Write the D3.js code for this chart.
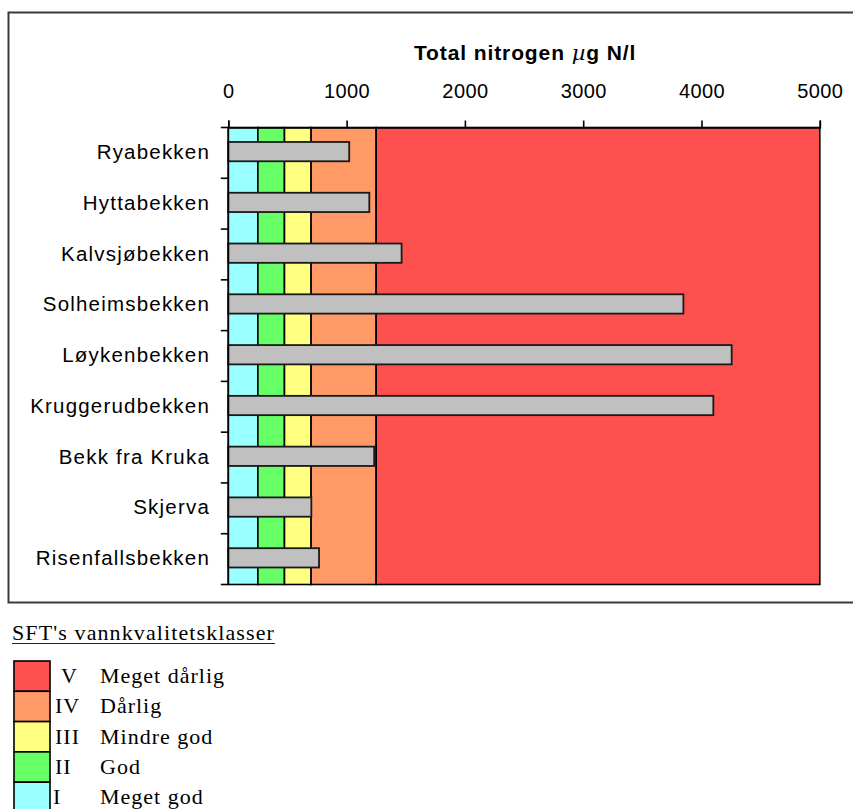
<!DOCTYPE html>
<html>
<head>
<meta charset="utf-8">
<script src="https://cdn.jsdelivr.net/npm/d3@7"></script>
<style>
  html, body { margin: 0; padding: 0; background: #ffffff; }
  svg { display: block; }
</style>
</head>
<body>
<svg id="chart" width="853" height="809"></svg>
<script>
// ---- data ----
const categories = ["Ryabekken", "Hyttabekken", "Kalvsjøbekken", "Solheimsbekken", "Løykenbekken",
                    "Kruggerudbekken", "Bekk fra Kruka", "Skjerva", "Risenfallsbekken"];
const nitrogenValues = [1022, 1192, 1465, 3847, 4255, 4100, 1233, 702, 767];
const classBreaks = [0, 250, 475, 700, 1250, 5000];
const classColors = ["#99ffff", "#66ff66", "#ffff80", "#ff9966", "#ff5050"];
const classNumerals = ["I", "II", "III", "IV", "V"];
const classNames = ["Meget god", "God", "Mindre god", "Dårlig", "Meget dårlig"];
const tickValues = [0, 1000, 2000, 3000, 4000, 5000];
const chartTitle = "Total nitrogen ";
const legendTitle = "SFT's vannkvalitetsklasser";

// ---- layout ----
const svg = d3.select("#chart");
const plot = { left: 228.3, right: 819.8, top: 127.5, bottom: 584.5 };
const sans = "'Liberation Sans', Arial, sans-serif";

// outer frame
svg.append("rect")
  .attr("x", 8.5).attr("y", 12.5).attr("width", 870).attr("height", 590)
  .attr("fill", "#ffffff").attr("stroke", "#3a3a3a").attr("stroke-width", 2);

const x = d3.scaleLinear().domain([0, 5000]).range([plot.left, plot.right]);
const y = d3.scaleBand().domain(categories).range([plot.top, plot.bottom]).paddingInner(0).paddingOuter(0);

// class columns (background)
const classes = classColors.map((c, i) => ({ from: classBreaks[i], to: classBreaks[i + 1], color: c }));
svg.append("g").selectAll("rect").data(classes).join("rect")
  .attr("x", d => x(d.from)).attr("width", d => x(d.to) - x(d.from))
  .attr("y", plot.top).attr("height", plot.bottom - plot.top)
  .attr("fill", d => d.color).attr("stroke", "#000").attr("stroke-width", 1.6);

// gray measurement bars
const bw = y.bandwidth();
svg.append("g").selectAll("rect").data(categories).join("rect")
  .attr("x", x(0))
  .attr("y", d => y(d) + bw * 0.285)
  .attr("width", (d, i) => x(nitrogenValues[i]) - x(0))
  .attr("height", bw * 0.38)
  .attr("fill", "#c0c0c0").attr("stroke", "#1a1a1a").attr("stroke-width", 1.8);

// top axis
const xAxis = d3.axisTop(x).tickValues(tickValues).tickSize(7).tickPadding(23).tickFormat(d3.format("d"));
const gx = svg.append("g").attr("transform", `translate(0,${plot.top})`).call(xAxis);
gx.select(".domain").attr("stroke", "#000").attr("stroke-width", 1.6);
gx.selectAll(".tick line").attr("stroke", "#000").attr("stroke-width", 1.6);
gx.selectAll(".tick text")
  .attr("font-family", sans)
  .attr("font-size", 20).attr("fill", "#000").attr("letter-spacing", 0.4);

// left axis: ticks at band boundaries
const boundaries = d3.range(categories.length + 1).map(i => plot.top + i * bw);
svg.append("g").selectAll("line").data(boundaries).join("line")
  .attr("x1", plot.left - 7.5).attr("x2", plot.left)
  .attr("y1", d => d).attr("y2", d => d)
  .attr("stroke", "#000").attr("stroke-width", 1.6);
svg.append("line")
  .attr("x1", plot.left).attr("x2", plot.left)
  .attr("y1", plot.top).attr("y2", plot.bottom)
  .attr("stroke", "#000").attr("stroke-width", 1.6);

// category labels
svg.append("g").selectAll("text").data(categories).join("text")
  .attr("x", 210)
  .attr("y", d => y(d) + bw * 0.48)
  .attr("dy", "0.35em")
  .attr("text-anchor", "end")
  .attr("font-family", sans)
  .attr("font-size", 20.5).attr("letter-spacing", 1.2)
  .attr("fill", "#000")
  .text(d => d);

// title
const title = svg.append("text")
  .attr("x", (plot.left + plot.right) / 2 + 1).attr("y", 60)
  .attr("text-anchor", "middle")
  .attr("font-family", sans)
  .attr("font-size", 21).attr("font-weight", "bold").attr("letter-spacing", 0.9).attr("fill", "#000");
title.append("tspan").text(chartTitle);
title.append("tspan").attr("font-family", "'DejaVu Serif', serif").attr("font-style", "italic").attr("font-weight", "normal").text("µ");
title.append("tspan").text("g N/l");

// legend
const serif = "'Liberation Serif', 'Times New Roman', serif";
const lt = svg.append("text")
  .attr("x", 12).attr("y", 640)
  .attr("font-family", serif).attr("font-size", 22).attr("letter-spacing", 1.1)
  .attr("fill", "#000").text(legendTitle);
const ltw = lt.node().getComputedTextLength();
svg.append("line")
  .attr("x1", 12).attr("x2", 12 + ltw).attr("y1", 643.5).attr("y2", 643.5)
  .attr("stroke", "#222").attr("stroke-width", 1.2);

const legendOrder = d3.range(classColors.length).reverse();
const rowH = 30.3;
const lg = svg.append("g");
lg.selectAll("rect").data(legendOrder).join("rect")
  .attr("x", 14).attr("y", (d, i) => 661 + i * rowH)
  .attr("width", 36).attr("height", rowH)
  .attr("fill", d => classColors[d]).attr("stroke", "#000").attr("stroke-width", 1.6);
lg.selectAll("text.num").data(legendOrder).join("text")
  .attr("class", "num")
  .attr("x", d => classNumerals[d] === "V" ? 61 : (classNumerals[d] === "I" ? 53 : 55))
  .attr("y", (d, i) => 683 + i * rowH)
  .attr("font-family", serif).attr("font-size", 22).attr("letter-spacing", 1)
  .attr("fill", "#000").text(d => classNumerals[d]);
lg.selectAll("text.name").data(legendOrder).join("text")
  .attr("class", "name")
  .attr("x", 100)
  .attr("y", (d, i) => 683 + i * rowH)
  .attr("font-family", serif).attr("font-size", 22).attr("letter-spacing", 1)
  .attr("fill", "#000").text(d => classNames[d]);
</script>
</body>
</html>
